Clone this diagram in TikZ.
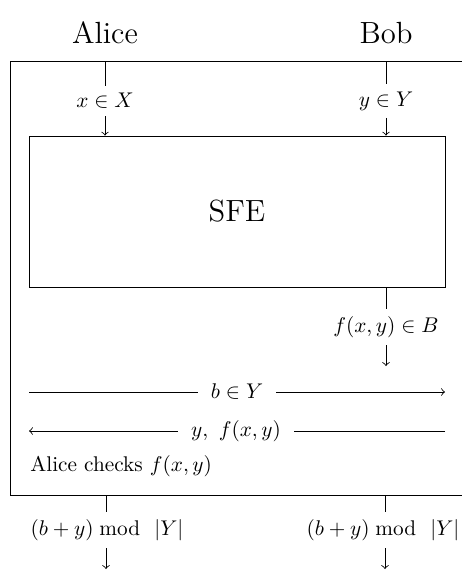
\documentclass[tikz,border=0pt]{standalone}
\usetikzlibrary{fit}
\begin{document}
\begin{tikzpicture}[x=0.47pt,y=-0.47pt,
  title/.style={font=\Large},
  lbl/.style={},
  msg/.style={inner xsep=6pt},
  line width=0.4pt]
\useasboundingbox (0,0) rectangle (462,571);
\clip (0,0) rectangle (462,571);
% titles
\node[title] (alice) at (105,33) {Alice};
\node[title] (bob) at (386,33) {Bob};
% outer frame
\coordinate (frNW) at (10,61);
\coordinate (frSE) at (480,495);
\draw (frNW) rectangle (frSE);
% SFE box
\coordinate (sfeNW) at (29,136);
\coordinate (sfeSE) at (445,287);
\node[draw, fit=(sfeNW)(sfeSE), inner sep=0pt] (sfe) {};
\node[font=\Large] (sfetxt) at (sfe.center) {SFE};
% inputs
\coordinate (atop) at (105,61);
\coordinate (btop) at (386,61);
\node[lbl] (xin) at (105,101) {$x\in X$};
\node[lbl] (yin) at (386,101) {$y\in Y$};
\draw (atop) -- (xin);
\draw (btop) -- (yin);
\draw[->] (xin) -- (xin |- sfe.north);
\draw[->] (yin) -- (yin |- sfe.north);
% output to Bob
\node[lbl] (fout) at (386,327) {$f(x,y)\in B$};
\coordinate (foutend) at (386,366);
\draw (fout |- sfe.south) -- (fout);
\draw[->] (fout) -- (foutend);
% messages
\coordinate (m1l) at (29,392);
\coordinate (m1r) at (445,392);
\node[msg] (m1) at (237,392) {$b\in Y$};
\draw (m1l) -- (m1);
\draw[->] (m1) -- (m1r);
\coordinate (m2l) at (29,431);
\coordinate (m2r) at (445,431);
\node[msg] (m2) at (236,431) {$y,\ f(x,y)$};
\draw[->] (m2) -- (m2l);
\draw (m2r) -- (m2);
% check
\node[anchor=west, inner sep=0pt] (check) at (30,466) {Alice checks $f(x,y)$};
% outputs
\coordinate (abot) at (106,495);
\coordinate (bbot) at (385,495);
\node[lbl] (aout) at (107,530) {$(b+y)\;\mathrm{mod}\ \ |Y|$};
\node[lbl] (bout) at (383,530) {$(b+y)\;\mathrm{mod}\ \ |Y|$};
\coordinate (aend) at (106,569);
\coordinate (bend) at (385,569);
\draw (abot) -- (abot |- aout.north);
\draw (bbot) -- (bbot |- bout.north);
\draw[->] (abot |- aout.south) -- (aend);
\draw[->] (bbot |- bout.south) -- (bend);
\end{tikzpicture}
\end{document}
